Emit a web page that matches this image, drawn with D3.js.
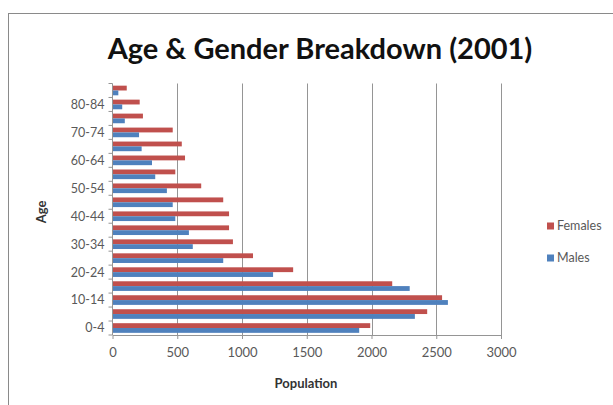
<!DOCTYPE html>
<html>
<head>
<meta charset="utf-8">
<script src="https://cdn.jsdelivr.net/npm/d3@7"></script>
<style>
  html, body { margin: 0; padding: 0; background: #fff; }
  svg { display: block; }
</style>
</head>
<body>
<svg id="chart" width="613" height="405"></svg>
<script>
// Age groups, youngest first (drawn bottom to top)
const ageGroups = ["0-4","5-9","10-14","15-19","20-24","25-29","30-34","35-39","40-44",
                   "45-49","50-54","55-59","60-64","65-69","70-74","75-79","80-84","85+"];
const females = [1990, 2430, 2545, 2160, 1395, 1085, 930, 900, 900,
                 855, 685, 485, 560, 535, 465, 235, 210, 110];
const males   = [1905, 2335, 2590, 2295, 1240, 855, 620, 590, 485,
                 465, 420, 330, 305, 225, 205, 95, 75, 45];
const seriesNames = ["Females", "Males"];
const seriesColors = ["#C0504D", "#4F81BD"];
const xTicks = [0, 500, 1000, 1500, 2000, 2500, 3000];

const svg = d3.select("#chart");
const font = "Lato, 'Open Sans', sans-serif";

// outer chart frame
svg.append("rect")
  .attr("x", 8.5).attr("y", 13.5).attr("width", 700).attr("height", 500)
  .attr("fill", "#fff").attr("stroke", "#8a8a8a").attr("stroke-width", 1);

const plot = { left: 112.5, right: 501, top: 83.5, bottom: 335 };

const x = d3.scaleLinear().domain([0, 3000]).range([plot.left, plot.right]);
const y = d3.scaleBand().domain(ageGroups).range([plot.bottom, plot.top]).paddingInner(0).paddingOuter(0);
const ySub = d3.scaleBand().domain(seriesNames).range([0, y.bandwidth()]).paddingInner(0).paddingOuter(0.45);

// vertical gridlines
svg.append("g").selectAll("line")
  .data(xTicks.filter(t => t > 0))
  .join("line")
  .attr("x1", d => Math.round(x(d)) + 0.5).attr("x2", d => Math.round(x(d)) + 0.5)
  .attr("y1", plot.top).attr("y2", plot.bottom)
  .attr("stroke", "#959595").attr("stroke-width", 1);

// bars
const rows = ageGroups.map((g, i) => ({ group: g, values: [females[i], males[i]] }));
const groups = svg.append("g").selectAll("g")
  .data(rows)
  .join("g")
  .attr("transform", d => `translate(0,${y(d.group)})`);
groups.selectAll("rect")
  .data(d => d.values.map((v, k) => ({ name: seriesNames[k], value: v, color: seriesColors[k] })))
  .join("rect")
  .attr("x", x(0))
  .attr("y", d => ySub(d.name))
  .attr("width", d => x(d.value) - x(0))
  .attr("height", ySub.bandwidth())
  .attr("fill", d => d.color);

// bottom value axis
const xAxis = svg.append("g")
  .attr("transform", `translate(0,${plot.bottom})`)
  .call(d3.axisBottom(x).tickValues(xTicks).tickFormat(d3.format("d"))
    .tickSize(4).tickSizeOuter(0).tickPadding(9));
xAxis.select(".domain").attr("stroke", "#959595");
xAxis.selectAll(".tick line").attr("stroke", "#959595");
xAxis.selectAll("text").attr("fill", "#595959").style("font-family", font).style("font-size", "13px");

// left category axis: tick at each category boundary, label every other group
const yAxis = svg.append("g").attr("transform", `translate(${plot.left},0)`);
yAxis.append("line")
  .attr("x1", 0).attr("x2", 0).attr("y1", plot.top).attr("y2", plot.bottom)
  .attr("stroke", "#959595");
yAxis.selectAll("line.tk")
  .data(ageGroups.concat(["__end"]))
  .join("line").attr("class", "tk")
  .attr("x1", -4).attr("x2", 0)
  .attr("y1", (d, i) => i < ageGroups.length ? y(d) + y.bandwidth() : plot.top)
  .attr("y2", (d, i) => i < ageGroups.length ? y(d) + y.bandwidth() : plot.top)
  .attr("stroke", "#959595");
yAxis.selectAll("text")
  .data(ageGroups.filter((g, i) => i % 2 === 0))
  .join("text")
  .attr("x", -8)
  .attr("y", d => y(d) + y.bandwidth() / 2)
  .attr("dy", "0.35em")
  .attr("text-anchor", "end")
  .attr("fill", "#595959")
  .style("font-family", font).style("font-size", "12.5px")
  .text(d => d);

// title
svg.append("text")
  .attr("x", 320).attr("y", 59)
  .attr("text-anchor", "middle")
  .attr("fill", "#111")
  .style("font-family", font).style("font-weight", "bold").style("font-size", "29px")
  .text("Age & Gender Breakdown (2001)");

// axis titles
svg.append("text")
  .attr("transform", "translate(46,212) rotate(-90)")
  .attr("text-anchor", "middle")
  .attr("fill", "#333")
  .style("font-family", font).style("font-weight", "bold").style("font-size", "13px")
  .text("Age");
svg.append("text")
  .attr("x", 306).attr("y", 388)
  .attr("text-anchor", "middle")
  .attr("fill", "#333")
  .style("font-family", font).style("font-weight", "bold").style("font-size", "13px")
  .text("Population");

// legend
const legend = svg.append("g").selectAll("g")
  .data(seriesNames)
  .join("g")
  .attr("transform", (d, i) => `translate(547,${226 + i * 32})`);
legend.append("rect")
  .attr("x", 0).attr("y", -3.5).attr("width", 7).attr("height", 7)
  .attr("fill", (d, i) => seriesColors[i]);
legend.append("text")
  .attr("x", 10).attr("y", 0).attr("dy", "0.35em")
  .attr("fill", "#595959")
  .style("font-family", font).style("font-size", "12.5px")
  .text(d => d);
</script>
</body>
</html>
